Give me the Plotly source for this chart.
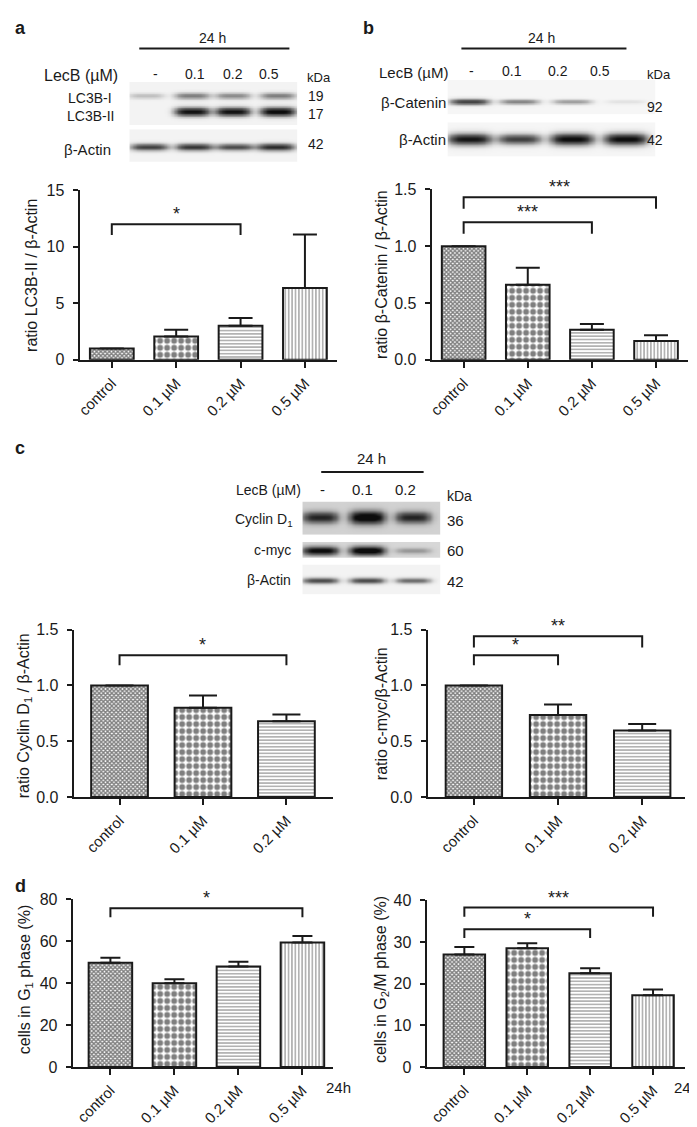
import numpy as np
import plotly.graph_objects as go

W, H = 697, 1127
INK = "#1a1a1a"
SANS = "Liberation Sans, Arial, Helvetica, sans-serif"

# ---------------- data ----------------
cats4 = ["control", "0.1 µM", "0.2 µM", "0.5 µM"]
cats3 = ["control", "0.1 µM", "0.2 µM"]

lc3b_mean = [1.0, 2.05, 3.0, 6.35]
lc3b_err = [0.0, 0.6, 0.7, 4.75]
bcat_mean = [1.0, 0.66, 0.265, 0.165]
bcat_err = [0.0, 0.15, 0.05, 0.05]
cyc_mean = [1.0, 0.80, 0.68]
cyc_err = [0.0, 0.11, 0.06]
myc_mean = [1.0, 0.735, 0.595]
myc_err = [0.0, 0.095, 0.06]
g1_mean = [49.8, 40.0, 48.0, 59.5]
g1_err = [2.3, 1.9, 2.2, 3.0]
g2m_mean = [27.0, 28.5, 22.5, 17.2]
g2m_err = [1.8, 1.2, 1.2, 1.4]

# significance brackets: (from, to, bracket y, leg end y, label)
sig_a = [(0, 2, 12.0, 11.05, "*")]
sig_b = [(0, 3, 1.43, 1.33, "***"), (0, 2, 1.21, 1.11, "***")]
sig_cyc = [(0, 2, 1.27, 1.18, "*")]
sig_myc = [(0, 2, 1.44, 1.34, "**"), (0, 1, 1.27, 1.18, "*")]
sig_g1 = [(0, 3, 75.8, 71.5, "*")]
sig_g2m = [(0, 3, 38.3, 36.1, "***"), (0, 2, 33.1, 31.0, "*")]

# western blot band intensities per lane (0 = none, 1 = saturated)
lanes4 = ["-", "0.1", "0.2", "0.5"]
lanes3 = ["-", "0.1", "0.2"]
blot_lc3b_I = [0.2, 0.45, 0.4, 0.45]
blot_lc3b_II = [0.0, 0.95, 0.95, 1.0]
blot_actin_a = [0.75, 0.8, 0.7, 0.85]
blot_bcat = [0.75, 0.45, 0.35, 0.08]
blot_actin_b = [0.95, 0.75, 1.0, 1.0]
blot_cyclin = [0.75, 1.0, 0.75]
blot_myc = [0.9, 1.0, 0.25]
blot_actin_c = [0.7, 0.7, 0.55]

fig = go.Figure()


def px_x(a, b):
    return [a / W, b / W]


def px_y(top, bottom):
    return [1 - bottom / H, 1 - top / H]


layout = dict(width=W, height=H, margin=dict(l=0, r=0, t=0, b=0),
              paper_bgcolor="white", plot_bgcolor="white", showlegend=False,
              annotations=[], shapes=[])

# ---------------- bar panels ----------------
patt_shapes = ["x", ".", "-", "|"]
patt_sizes = [3, 7, 3.3, 3.4]
patt_sol = [0.7, 0.55, 0.3, 0.3]

panels = [
    # idx, cats, mean, err, sig, xdom, ydom, xrange, yrange, yticks, barwidth, cap, xfont, yfont, fmt
    (1, cats4, lc3b_mean, lc3b_err, sig_a, (68, 327), (177, 349), [-0.5, 3.5], [0, 15], [0, 5, 10, 15], 0.68, 12, 15, 16, None),
    (2, cats4, bcat_mean, bcat_err, sig_b, (422, 680), (176, 349), [-0.5, 3.5], [0, 1.5], [0, 0.5, 1.0, 1.5], 0.68, 12, 15, 16, ".1f"),
    (3, cats3, cyc_mean, cyc_err, sig_cyc, (62, 323), (623, 793), [-0.55, 2.56], [0, 1.5], [0, 0.5, 1.0, 1.5], 0.68, 14, 15, 16, ".1f"),
    (4, cats3, myc_mean, myc_err, sig_myc, (418, 677), (623, 793), [-0.55, 2.51], [0, 1.5], [0, 0.5, 1.0, 1.5], 0.67, 14, 15, 16, ".1f"),
    (5, cats4, g1_mean, g1_err, sig_g1, (61, 323), (897, 1067), [-0.59, 3.48], [0, 80], [0, 20, 40, 60, 80], 0.68, 10, 15, 16, None),
    (6, cats4, g2m_mean, g2m_err, sig_g2m, (417, 677), (898, 1067), [-0.6, 3.51], [0, 40], [0, 10, 20, 30, 40], 0.66, 10, 15, 16, None),
]

for (i, cats, mean, err, sig, xd, yd, xr, yr, yt, bw, cap, xfs, yfs, fmt) in panels:
    xa = "x" if i == 1 else f"x{i}"
    ya = "y" if i == 1 else f"y{i}"
    n = len(mean)
    xs = list(range(n))
    fig.add_trace(go.Bar(
        x=xs, y=mean, width=bw, xaxis=xa, yaxis=ya,
        marker=dict(color="white", line=dict(color=INK, width=2),
                    pattern=dict(shape=patt_shapes[:n], size=patt_sizes[:n],
                                 solidity=patt_sol[:n], fgcolor="#000000",
                                 bgcolor="white", fillmode="overlay")),
        error_y=dict(type="data", symmetric=False, array=err, arrayminus=[0] * n,
                     color=INK, thickness=2, width=cap),
        hoverinfo="skip"))
    bx, by = [], []
    for (a, b, yb, yl, lab) in sig:
        bx += [a, a, b, b, None]
        by += [yl, yb, yb, yl, None]
        layout["annotations"].append(dict(
            x=(a + b) / 2, y=yb, xref=xa, yref=ya, text=lab, showarrow=False,
            yanchor="bottom", yshift=-2, font=dict(family=SANS, size=18, color=INK)))
    fig.add_trace(go.Scatter(x=bx, y=by, xaxis=xa, yaxis=ya, mode="lines",
                             line=dict(color=INK, width=2), cliponaxis=False,
                             hoverinfo="skip"))
    axis_common = dict(showline=True, linewidth=2, linecolor=INK, showgrid=False,
                       zeroline=False, ticks="outside", tickwidth=2, tickcolor=INK,
                       fixedrange=True)
    layout["xaxis" if i == 1 else f"xaxis{i}"] = dict(
        axis_common, domain=px_x(*xd), range=xr, anchor=ya, tickvals=xs,
        ticktext=cats, tickangle=-45, ticklen=6, ticklabelstandoff=1,
        tickfont=dict(family=SANS, size=xfs, color=INK))
    layout["yaxis" if i == 1 else f"yaxis{i}"] = dict(
        axis_common, domain=px_y(*yd), range=yr, anchor=xa, tickvals=yt,
        ticklen=5, ticklabelstandoff=5,
        tickformat=fmt if fmt else "d",
        tickfont=dict(family=SANS, size=yfs, color=INK))


# ---------------- western blots (heatmaps) ----------------
def blot_image(rows, lane_c, lane_w, nx, ny, bg, sy):
    xg = np.linspace(0, 1, nx)[None, :]
    yg = np.linspace(0, 1, ny)[:, None]
    z = np.full((ny, nx), bg)
    for (ints, yc) in rows:
        for c, v in zip(lane_c, ints):
            hx = np.exp(-np.abs((xg - c) / (lane_w / 2)) ** 4)
            sig = sy * (0.7 + 0.6 * v)
            vy = np.exp(-((yg - yc) / sig) ** 2)
            z = z + v * hx * vy
    return np.clip(z, 0, 1)


blots = [
    # idx, box x, box y, rows[(ints, y_px)], lane centres px, lane width px, bg, sigma px
    (7, (118, 287), (67, 111), [(blot_lc3b_I, 81), (blot_lc3b_II, 97)], [135, 181, 222, 267], 36, 0.03, 3.5),
    (8, (118, 287), (115, 148), [(blot_actin_a, 133)], [138, 183, 224, 265], 38, 0.03, 3.0),
    (9, (438, 647), (65, 100), [(blot_bcat, 87)], [460, 510, 563, 617], 40, 0.02, 2.6),
    (10, (438, 647), (108, 143), [(blot_actin_b, 125)], [460, 510, 563, 617], 44, 0.02, 4.5),
    (11, (292, 431), (493, 527), [(blot_cyclin, 509)], [310, 357, 403], 36, 0.16, 5.0),
    (12, (292, 431), (534, 550), [(blot_myc, 543)], [310, 357, 403], 36, 0.14, 3.5),
    (13, (292, 431), (557, 587), [(blot_actin_c, 573)], [310, 357, 403], 36, 0.03, 2.6),
]
for (i, bxr, byr, rows, lc, lw, bg, sy) in blots:
    wpx = bxr[1] - bxr[0]
    hpx = byr[1] - byr[0]
    rows_f = [(ints, 1 - (yp - byr[0]) / hpx) for ints, yp in rows]
    lc_f = [(c - bxr[0]) / wpx for c in lc]
    z = blot_image(rows_f, lc_f, lw / wpx, 120, 60, bg, sy / hpx)
    fig.add_trace(go.Heatmap(
        z=z, x=np.linspace(0, 1, 120), y=np.linspace(0, 1, 60),
        xaxis=f"x{i}", yaxis=f"y{i}", zmin=0, zmax=1, zsmooth="best",
        colorscale=[[0, "#fbfbfb"], [0.5, "#7a7a7a"], [1, "#0d0d0d"]],
        showscale=False, hoverinfo="skip"))
    hidden = dict(visible=False, fixedrange=True)
    layout[f"xaxis{i}"] = dict(hidden, domain=px_x(*bxr), range=[0, 1], anchor=f"y{i}")
    layout[f"yaxis{i}"] = dict(hidden, domain=px_y(*byr), range=[0, 1], anchor=f"x{i}")


# ---------------- text ----------------
def ann(text, x, y, size=14, xanchor="center", angle=0, bold=False):
    if bold:
        text = f"<b>{text}</b>"
    layout["annotations"].append(dict(
        text=text, x=x / W, y=1 - y / H, xref="paper", yref="paper",
        xanchor=xanchor, yanchor="middle", showarrow=False, textangle=angle,
        font=dict(family=SANS, size=size, color=INK)))


def hline(x0, x1, y):
    layout["shapes"].append(dict(type="line", xref="paper", yref="paper",
                                 x0=x0 / W, x1=x1 / W, y0=1 - y / H, y1=1 - y / H,
                                 line=dict(color=INK, width=2)))


# panel a
ann("a", 1, 12, 18, "left", bold=True)
ann("24 h", 202, 22, 14)
hline(128, 279, 33)
ann("LecB (µM)", 69, 60, 16)
for lab, x in zip(lanes4, [144, 184, 222, 258]):
    ann(lab, x, 59, 14)
ann("kDa", 295, 62, 13, "left")
ann("LC3B-I", 54, 83, 14, "left")
ann("LC3B-II", 53, 102, 14, "left")
ann("19", 296, 81, 14, "left")
ann("17", 296, 99, 14, "left")
ann("β-Actin", 102, 136, 15, "right")
ann("42", 296, 130, 14, "left")
ann("ratio LC3B-II / β-Actin", 19, 263, 16, angle=-90)

# panel b
ann("b", 351, 12, 18, "left", bold=True)
ann("24 h", 533, 22, 14)
hline(452, 618, 33)
ann("LecB (µM)", 404, 57, 15)
for lab, x in zip(lanes4, [462, 503, 549, 591]):
    ann(lab, x, 56, 14)
ann("kDa", 637, 59, 13, "left")
ann("β-Catenin", 439, 88, 15, "right")
ann("92", 637, 92, 14, "left")
ann("β-Actin", 439, 125, 15, "right")
ann("42", 637, 126, 14, "left")
ann("ratio β-Catenin / β-Actin", 371, 262, 16, angle=-90)

# panel c
ann("c", 1, 439, 18, "left", bold=True)
ann("24 h", 362, 449, 15)
hline(311, 414, 463)
ann("LecB (µM)", 293, 481, 14, "right")
for lab, x in zip(lanes3, [312, 353, 396]):
    ann(lab, x, 481, 15)
ann("kDa", 436, 487, 14, "left")
ann("Cyclin D<sub>1</sub>", 285, 512, 14, "right")
ann("36", 436, 512, 15, "left")
ann("c-myc", 283, 542, 14, "right")
ann("60", 436, 543, 15, "left")
ann("β-Actin", 283, 573, 14, "right")
ann("42", 436, 574, 15, "left")
ann("ratio Cyclin D<sub>1</sub> / β-Actin", 12, 710, 16, angle=-90)
ann("ratio c-myc/β-Actin", 371, 708, 16, angle=-90)

# panel d
ann("d", 1, 883, 18, "left", bold=True)
ann("24h", 343, 1088, 15, "right")
ann("24h", 693, 1088, 15, "right")
ann("cells in G<sub>1</sub> phase (%)", 13, 978, 16, angle=-90)
ann("cells in G<sub>2</sub>/M phase (%)", 371, 978, 16, angle=-90)

fig.update_layout(**layout)
fig.write_html("out.html")
